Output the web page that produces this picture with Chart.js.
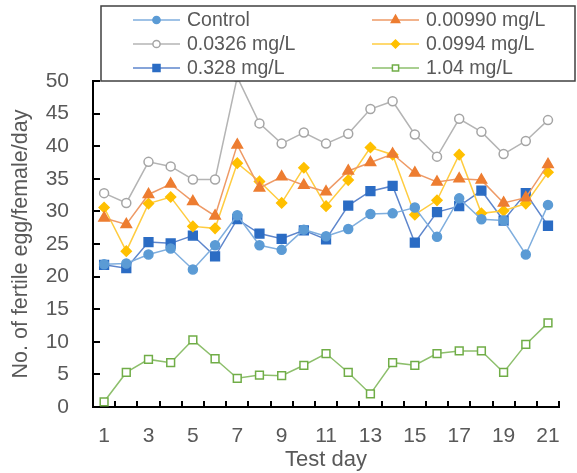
<!DOCTYPE html>
<html>
<head>
<meta charset="utf-8">
<title>Fertile egg production</title>
<script src="https://cdn.jsdelivr.net/npm/chart.js@4.4.1/dist/chart.umd.min.js"></script>
<style>
  html, body { margin: 0; padding: 0; background: #fff; }
  #wrap { width: 577px; height: 473px; }
</style>
</head>
<body>
<div id="wrap"><canvas id="eggChart" width="577" height="473"></canvas></div>
<script>
// Test days and fertile eggs per female per day for each treatment
const days = ['1', '2', '3', '4', '5', '6', '7', '8', '9', '10', '11',
              '12', '13', '14', '15', '16', '17', '18', '19', '20', '21'];
const control = [21.9, 22.0, 23.4, 24.3, 21.1, 24.8, 29.4, 24.8, 24.1, 27.2, 26.2,
                 27.3, 29.6, 29.7, 30.6, 26.1, 32.0, 28.8, 28.6, 23.4, 31.0];
const conc00990 = [29.0, 28.0, 32.6, 34.2, 31.5, 29.3, 40.2, 33.6, 35.3, 34.0, 33.0,
                   36.2, 37.5, 38.8, 35.9, 34.5, 35.0, 34.8, 31.3, 32.1, 37.2];
const conc0326 = [32.8, 31.3, 37.6, 36.9, 34.9, 34.9, 50.6, 43.5, 40.4, 42.1, 40.4,
                  41.9, 45.7, 46.9, 41.8, 38.4, 44.2, 42.2, 38.8, 40.8, 44.0];
const conc0994 = [30.6, 23.9, 31.2, 32.2, 27.7, 27.4, 37.4, 34.6, 31.3, 36.7, 30.8,
                  34.8, 39.8, 38.7, 29.5, 31.7, 38.7, 29.7, 30.1, 31.2, 36.0];
const conc328 = [21.8, 21.3, 25.3, 25.1, 26.3, 23.1, 28.8, 26.6, 25.8, 27.1, 25.7,
                 30.9, 33.1, 33.9, 25.2, 29.9, 30.8, 33.2, 28.6, 32.8, 27.8];
const conc104 = [0.8, 5.3, 7.3, 6.8, 10.3, 7.4, 4.4, 4.9, 4.8, 6.4, 8.2,
                 5.3, 2.0, 6.8, 6.4, 8.2, 8.6, 8.6, 5.3, 9.6, 12.9];
const yTicks = [0, 5, 10, 15, 20, 25, 30, 35, 40, 45, 50];

const FONT = "'Liberation Sans', Arial, sans-serif";
const TEXT = '#595959';

function series(label, data, line, fill, stroke, style, radius) {
    return {
        label: label,
        data: data,
        borderColor: line,
        borderWidth: 1.5,
        backgroundColor: fill,
        pointBackgroundColor: fill,
        pointBorderColor: stroke,
        pointBorderWidth: 1.5,
        pointStyle: style,
        pointRadius: radius,
        tension: 0,
        clip: false
    };
}

const datasets = [
    series('Control', control, '#7FAEDE', '#5B9BD5', '#5B9BD5', 'circle', 4.5),
    series('0.00990 mg/L', conc00990, '#EE9A66', '#ED7D31', '#ED7D31', 'triangle', 6),
    series('0.0326 mg/L', conc0326, '#B4B4B4', '#FFFFFF', '#A5A5A5', 'circle', 4.5),
    series('0.0994 mg/L', conc0994, '#FFCC40', '#FFC000', '#FFC000', 'rectRot', 5),
    series('0.328 mg/L', conc328, '#5E86CC', '#2B6CC4', '#2B6CC4', 'rect', 6.2),
    series('1.04 mg/L', conc104, '#8DBF6C', '#FFFFFF', '#70AD47', 'rect', 5.5)
];

// Inward tick marks on both axes
const innerTicks = {
    id: 'innerTicks',
    afterDatasetsDraw(chart) {
        const ctx = chart.ctx;
        const x = chart.scales.x, y = chart.scales.y;
        const area = chart.chartArea;
        ctx.save();
        ctx.strokeStyle = '#000';
        ctx.lineWidth = 2;
        ctx.beginPath();
        yTicks.forEach(v => {
            const py = Math.round(y.getPixelForValue(v));
            ctx.moveTo(area.left, py);
            ctx.lineTo(area.left + 7, py);
        });
        for (let i = 1; i <= days.length; i++) {
            const px = Math.round(x.getPixelForValue(i - 0.5));
            ctx.moveTo(px, area.bottom);
            ctx.lineTo(px, area.bottom - 6);
        }
        ctx.stroke();
        ctx.restore();
    }
};

// Boxed two-column legend laid over the top of the plot
const boxLegend = {
    id: 'boxLegend',
    afterDraw(chart) {
        const ctx = chart.ctx;
        ctx.save();
        ctx.fillStyle = '#fff';
        ctx.fillRect(101, 6, 475, 75);
        ctx.strokeStyle = '#404040';
        ctx.lineWidth = 1.5;
        ctx.strokeRect(101, 6, 474, 75);
        ctx.font = '19.5px ' + FONT;
        ctx.textBaseline = 'middle';
        chart.data.datasets.forEach((ds, i) => {
            const col = i % 2, row = Math.floor(i / 2);
            const x0 = col ? 372 : 133;
            const yy = 20 + row * 24;
            ctx.strokeStyle = ds.borderColor;
            ctx.lineWidth = 1.5;
            ctx.beginPath();
            ctx.moveTo(x0, yy);
            ctx.lineTo(x0 + 47, yy);
            ctx.stroke();
            ctx.fillStyle = ds.pointBackgroundColor;
            ctx.strokeStyle = ds.pointBorderColor;
            Chart.helpers.drawPoint(ctx, {
                pointStyle: ds.pointStyle,
                radius: ds.pointRadius * 0.8,
                borderWidth: 1.5,
                rotation: 0
            }, x0 + 23.5, yy);
            ctx.fillStyle = TEXT;
            ctx.fillText(ds.label, x0 + 54, yy + 1);
        });
        ctx.restore();
    }
};

new Chart(document.getElementById('eggChart'), {
    type: 'line',
    data: { labels: days, datasets: datasets },
    options: {
        responsive: false,
        animation: false,
        devicePixelRatio: 1,
        layout: { padding: { left: 4, right: 14, top: 81, bottom: 0 } },
        plugins: {
            legend: { display: false },
            tooltip: { enabled: false }
        },
        scales: {
            x: {
                type: 'category',
                offset: true,
                grid: { display: false, drawTicks: false },
                border: { display: true, color: '#000', width: 2 },
                ticks: {
                    autoSkip: false,
                    maxRotation: 0,
                    padding: 17,
                    color: TEXT,
                    font: { family: FONT, size: 21 },
                    callback: function(value, index) {
                        return index % 2 === 0 ? days[index] : '';
                    }
                },
                title: {
                    display: true,
                    text: 'Test day',
                    color: TEXT,
                    font: { family: FONT, size: 22 },
                    padding: { top: 4, bottom: 0 }
                },
                afterFit: function(scale) { scale.height = 66; }
            },
            y: {
                min: 0,
                max: 50,
                grid: { display: false, drawTicks: false },
                border: { display: true, color: '#000', width: 2 },
                ticks: {
                    stepSize: 5,
                    padding: 24,
                    color: TEXT,
                    font: { family: FONT, size: 21 }
                },
                title: {
                    display: true,
                    text: 'No. of fertile egg/female/day',
                    color: TEXT,
                    font: { family: FONT, size: 21.5 },
                    padding: { top: 4, bottom: 10 }
                },
                afterFit: function(scale) { scale.width = 89; }
            }
        }
    },
    plugins: [innerTicks, boxLegend]
});
</script>
</body>
</html>
